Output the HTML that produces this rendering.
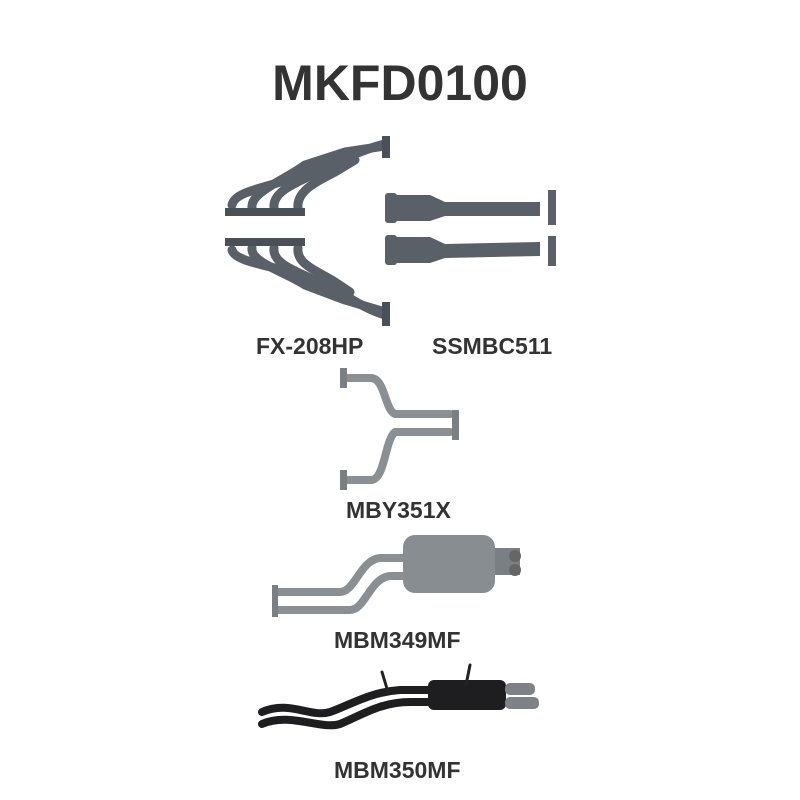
<!DOCTYPE html>
<html><head><meta charset="utf-8"><style>
html,body{margin:0;padding:0;background:#fff;}
.w{position:relative;width:800px;height:800px;overflow:hidden;font-family:"Liberation Sans",sans-serif;font-weight:bold;color:#333;}
.t{position:absolute;left:0;width:800px;text-align:center;top:54px;font-size:50px;letter-spacing:0px;}
.l{position:absolute;font-size:23px;}
svg{position:absolute;left:0;top:0;}
</style></head><body><div class="w">
<div class="t">MKFD0100</div>
<svg width="800" height="800" viewBox="0 0 800 800" fill="none" stroke-linecap="round" stroke-linejoin="round">
<g stroke="#5a6068" stroke-width="9">
<path d="M232 205 C235 190 270 188 300 175 L340 160 C360 152 375 146 385 144"/>
<path d="M252 208 C250 192 285 180 305 165 L345 152 L385 146"/>
<path d="M274 208 C272 190 300 182 318 172 L350 160"/>
<path d="M298 208 C296 190 320 180 335 172 L355 160"/>
<path d="M232 250 C235 262 270 265 300 275 L345 295 C360 305 375 312 385 315"/>
<path d="M252 248 C250 262 285 272 305 285 L345 300 L385 312"/>
<path d="M274 248 C272 265 300 272 318 282 L345 295"/>
<path d="M298 248 C296 265 320 272 335 282 L350 292"/>
</g>
<g fill="#4a5058"><rect x="225" y="208" width="80" height="8"/><rect x="225" y="238" width="80" height="8"/>
<rect x="382" y="136" width="8" height="22"/><rect x="382" y="302" width="8" height="24"/></g>
<g fill="#5a6068">
<rect x="385" y="193" width="12" height="30" rx="3"/><path d="M395 195 L430 195 L445 202 L540 202 L540 216 L445 216 L430 221 L395 221Z"/>
<rect x="548" y="190" width="8" height="35"/>
<rect x="385" y="235" width="12" height="30" rx="3"/><path d="M395 237 L430 237 L445 244 L540 242 L540 256 L445 258 L430 263 L395 263Z"/>
<rect x="548" y="236" width="8" height="30"/>
</g>
<g stroke="#8a8f94" stroke-width="8">
<path d="M348 378 L372 378 C385 380 385 410 395 414 L450 414"/>
<path d="M348 480 L372 480 C385 478 385 440 395 432 L450 432"/>
</g>
<g fill="#7a7f84"><rect x="340" y="368" width="7" height="20"/><rect x="340" y="470" width="7" height="20"/><rect x="452" y="410" width="7" height="30"/></g>
<g stroke="#8a8f94" stroke-width="8">
<path d="M278 592 L340 592 C355 592 360 560 380 558 L405 558"/>
<path d="M278 610 L350 610 C365 610 370 578 390 576 L405 576"/>
</g>
<rect x="403" y="535" width="92" height="58" rx="12" fill="#888d92"/>
<path d="M495 548 L520 548 L520 575 L495 575Z" fill="#7a7f84"/>
<circle cx="515" cy="556" r="6" fill="#666"/><circle cx="515" cy="570" r="6" fill="#666"/>
<rect x="272" y="585" width="6" height="32" fill="#7a7f84"/>
<g stroke="#1e1e20" stroke-width="8">
<path d="M262 712 C290 700 310 718 330 712 C350 705 370 692 400 690 L430 690"/>
<path d="M262 724 C290 712 320 730 340 724 C360 716 380 702 410 702 L430 702"/>
</g>
<rect x="428" y="680" width="78" height="30" rx="6" fill="#1e1e20"/>
<rect x="505" y="683" width="30" height="12" rx="5" fill="#7e8286"/><rect x="505" y="697" width="34" height="12" rx="5" fill="#7e8286"/>
<path d="M382 672 L388 692 M470 665 L466 685" stroke="#222" stroke-width="3"/>
</svg>
<div class="l" style="left:256px;top:333px">FX-208HP</div>
<div class="l" style="left:432px;top:333px">SSMBC511</div>
<div class="l" style="left:346px;top:497px">MBY351X</div>
<div class="l" style="left:334px;top:627px">MBM349MF</div>
<div class="l" style="left:334px;top:757px">MBM350MF</div>
</div></body></html>
